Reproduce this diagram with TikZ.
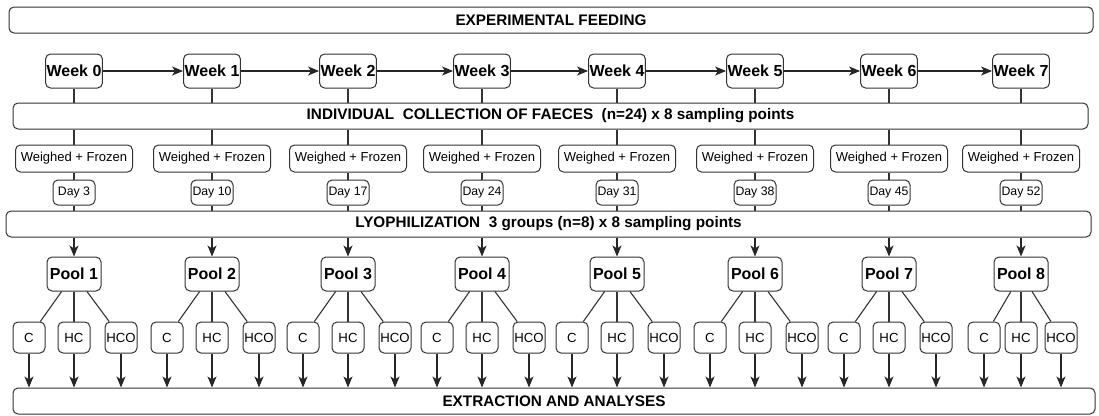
\documentclass[tikz,border=0pt]{standalone}
\usepackage{fontspec}
\setmainfont{Liberation Sans}
\usetikzlibrary{arrows.meta, positioning}

\begin{document}
\begin{tikzpicture}[x=1pt, y=-1pt,
  box/.style={draw=black!80, line width=1pt, rounded corners=5pt, fill=white, inner sep=1pt, align=center},
  bar/.style={box, minimum height=26pt, font=\fontsize{15.3}{15.3}\selectfont\bfseries},
  weekbox/.style={box, minimum width=56pt, minimum height=34pt, font=\fontsize{16}{16}\selectfont\bfseries},
  frozbox/.style={box, minimum width=117pt, minimum height=27pt, font=\fontsize{13}{13}\selectfont},
  daybox/.style={box, minimum width=42pt, minimum height=25pt, font=\fontsize{12.3}{12.3}\selectfont},
  dietbox/.style={box, minimum width=32pt, minimum height=31pt, font=\fontsize{13.2}{13.2}\selectfont},
  link/.style={line width=1.1pt, draw=black!80},
  arrow/.style={-{Stealth[length=11pt, width=9pt, inset=3pt]}, line width=1.1pt, draw=black!85}
]
  \useasboundingbox (0,0) rectangle (1099,415);

  % Process bars
  \node[bar, minimum width=1084pt] (feed) at (551,20) {EXPERIMENTAL FEEDING};
  \node[bar, minimum width=1075pt] (coll) at (550.5,116) {INDIVIDUAL\ \ COLLECTION OF FAECES\ \ (n=24) x 8 sampling points};
  \node[bar, minimum width=1085pt] (lyo) at (548.5,224) {LYOPHILIZATION\ \ 3 groups (n=8) x 8 sampling points};
  \node[bar, minimum width=1082pt] (ext) at (554,401) {EXTRACTION AND ANALYSES};

  % One column per sampling week
  \foreach \n/\x/\d/\l/\r [evaluate=\n as \p using int(\n+1)] in
    {0/74/3/45/47, 1/212/10/45/47, 2/348/17/45/47, 3/482/24/45/47,
     4/617/31/45/47, 5/755/38/45/47, 6/889/45/45/47, 7/1021/52/37/40} {
    \node[weekbox] (w\n) at (\x,71) {Week \n};
    \node[frozbox] (f\n) at (\x,158.5) {Weighed + Frozen};
    \node[daybox] (d\n) at (\x,192.5) {Day \d};
    \node[weekbox, minimum width=54pt] (p\n) at (\x,274) {Pool \p};
    \node[dietbox] (c\n) at (\x-\l,337.5) {C};
    \node[dietbox] (h\n) at (\x,337.5) {HC};
    \node[dietbox] (o\n) at (\x+\r,337.5) {HCO};

    \draw[link] (w\n) -- (w\n |- coll.north);
    \draw[link] (f\n |- coll.south) -- (f\n);
    \draw[link] (f\n) -- (d\n);
    \draw[link] (d\n) -- (d\n |- lyo.north);
    \draw[arrow] (p\n |- lyo.south) -- (p\n);
    \draw[link] (p\n) -- (c\n);
    \draw[link] (p\n) -- (h\n);
    \draw[link] (p\n) -- (o\n);
    \draw[arrow] (c\n) -- (c\n |- ext.north);
    \draw[arrow] (h\n) -- (h\n |- ext.north);
    \draw[arrow] (o\n) -- (o\n |- ext.north);
  }

  % Weeks in sequence
  \foreach \n [count=\m from 1] in {0,...,6}
    \draw[arrow] (w\n) -- (w\m);
\end{tikzpicture}
\end{document}
